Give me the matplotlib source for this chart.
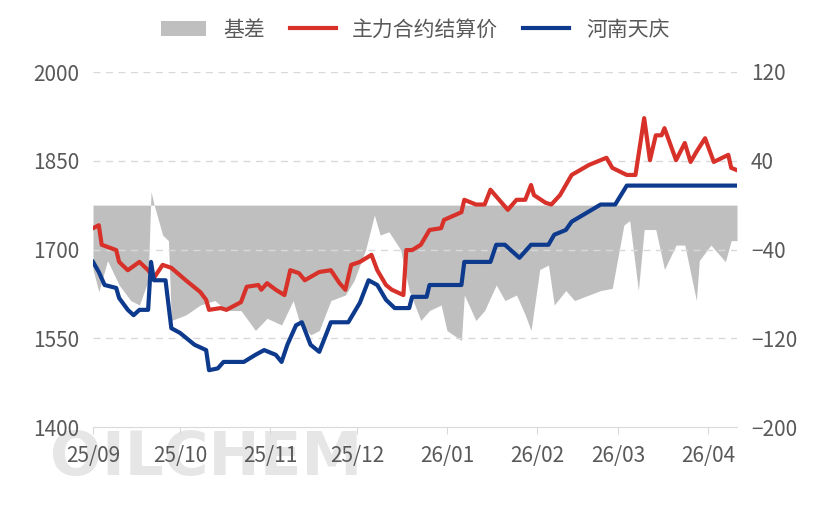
import matplotlib
matplotlib.use("Agg")
import matplotlib.pyplot as plt
import numpy as np
import datetime as dt

plt.rcParams['font.family'] = ['Noto Sans CJK SC', 'DejaVu Sans']

start = dt.date(2025, 9, 1)
red_days = [0,2,3,8,9,12,16,19,21,24,27,32,37,39,40,44,46,51,53,57,58,60,63,66,68,71,73,78,82,85,87,89,92,96,98,101,103,107,108,110,113,116,120,121,127,128,132,135,137,140,143,146,149,151,152,156,158,161,165,171,177,179,184,187,190,192,194,196,197,201,204,206,208,211,214,219,220,222]
red_vals = [1736,1741,1708,1699,1679,1665,1679,1665,1652,1674,1669,1648,1628,1615,1598,1601,1598,1611,1637,1640,1632,1643,1632,1623,1665,1660,1648,1662,1665,1643,1632,1674,1679,1691,1665,1640,1632,1623,1699,1699,1708,1733,1736,1750,1763,1784,1776,1776,1801,1784,1767,1784,1784,1809,1792,1779,1776,1792,1826,1843,1855,1838,1826,1826,1922,1851,1893,1893,1905,1851,1880,1848,1865,1888,1848,1860,1838,1834]
blue_days = [0,2,4,8,9,12,14,16,19,20,21,25,27,30,35,39,40,43,45,52,56,59,63,65,67,70,72,75,78,82,88,92,95,98,101,104,109,110,115,116,127,128,137,139,142,144,147,151,157,159,163,165,175,180,184,222]
blue_vals = [1679,1662,1640,1635,1618,1598,1589,1598,1598,1679,1648,1648,1567,1559,1539,1530,1496,1499,1510,1510,1522,1530,1522,1510,1539,1572,1577,1539,1527,1577,1577,1610,1648,1640,1615,1601,1601,1620,1620,1640,1640,1679,1679,1708,1708,1699,1686,1708,1708,1725,1733,1747,1776,1776,1808,1808]
basis_days = [0,2,5,9,13,16,19,20,21,24,26,27,32,37,42,46,51,56,60,65,69,71,75,78,82,87,90,94,97,99,102,106,109,113,116,120,122,127,128,132,135,139,142,146,149,151,154,157,159,163,166,175,179,183,185,188,190,194,197,201,204,208,209,213,218,220,222]
basis_vals = [-58,-78,-50,-72,-86,-90,-68,12,1,-27,-32,-104,-99,-90,-86,-95,-95,-113,-102,-108,-86,-104,-117,-113,-86,-81,-68,-40,-9,-27,-24,-40,-77,-104,-95,-90,-113,-122,-81,-104,-95,-72,-86,-81,-99,-113,-58,-54,-90,-77,-86,-77,-75,-18,-14,-77,-22,-22,-58,-36,-36,-86,-50,-36,-51,-32,-32]
month_labels = ["25/09","25/10","25/11","25/12","26/01","26/02","26/03","26/04"]

def todates(d):
    return [np.datetime64(start) + np.timedelta64(int(x), 'D') for x in d]

fig = plt.figure(figsize=(8.3, 5.22), dpi=100)
ax = fig.add_axes([93/830, 95/522, 644/830, 355/522])
ax2 = ax.twinx()

bd = todates(basis_days)
ax2.fill_between(bd, 0, basis_vals, color='#bfbfbf', linewidth=0, label='基差')
ax2.set_ylim(-200, 120)
ax2.set_yticks([-200, -120, -40, 40, 120])

ax.set_zorder(ax2.get_zorder() + 1)
ax.patch.set_visible(False)
ax.plot(todates(red_days), red_vals, color='#d7312a', lw=3, label='主力合约结算价')
ax.plot(todates(blue_days), blue_vals, color='#0d3a8c', lw=3, label='河南天庆')
ax.set_ylim(1400, 2000)
ax.set_yticks([1400, 1550, 1700, 1850, 2000])
for y in [1550, 1700, 1850, 2000]:
    ax.axhline(y, color='#d9d9d9', lw=1, ls=(0, (5, 4)), zorder=0)

ax.set_xlim(np.datetime64(start), np.datetime64(start) + np.timedelta64(222, 'D'))
mt = [np.datetime64(f"{y}-{m:02d}-01") for y, m in [(2025,9),(2025,10),(2025,11),(2025,12),(2026,1),(2026,2),(2026,3),(2026,4)]]
ax.set_xticks(mt)
ax.set_xticklabels(month_labels)

for a in (ax, ax2):
    for s in a.spines.values():
        s.set_visible(False)
    a.tick_params(colors='#595959', labelsize=15, length=0)
ax.spines['bottom'].set_visible(True)
ax.spines['bottom'].set_color('#d9d9d9')
ax.tick_params(axis='x', length=5, color='#d9d9d9', pad=8)
ax.tick_params(axis='y', pad=10)
ax2.tick_params(axis='y', pad=10)

fig.text(0.06, 0.09, 'OILCHEM', fontsize=44, color='#e6e6e6', fontweight='bold', zorder=0, family='DejaVu Sans')

h1, l1 = ax2.get_legend_handles_labels()
h2, l2 = ax.get_legend_handles_labels()
fig.legend(h1 + h2, l1 + l2, loc='upper center', bbox_to_anchor=(0.5, 1.0), ncol=3,
           frameon=False, fontsize=15, labelcolor='#595959', handlelength=2.2, columnspacing=1.2)
fig.savefig('out.png', dpi=100)
